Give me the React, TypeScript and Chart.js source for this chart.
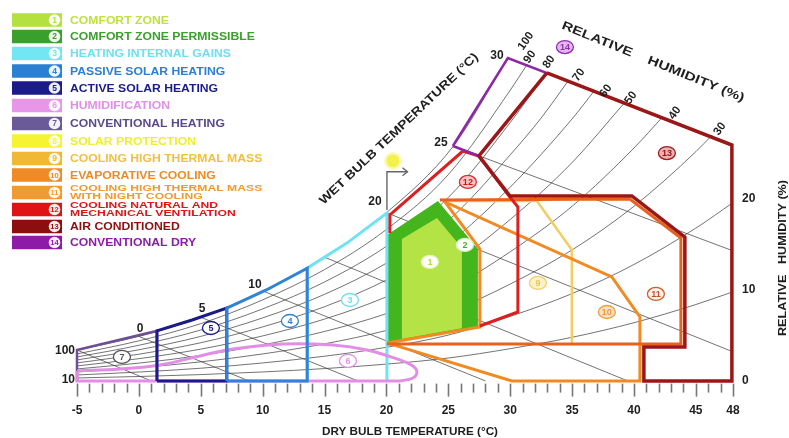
import React, { useEffect, useRef } from 'react';
import { Chart, registerables } from 'chart.js';

Chart.register(...registerables);

type P = [number, number];

const FONT = "'Liberation Sans', Arial, Helvetica, sans-serif";
const W = 789;
const H = 438;

// ---------- axes ----------
const xTickValues = [-5, 0, 5, 10, 15, 20, 25, 30, 35, 40, 45, 48];
const yTickValues = [0, 10, 20];

// ---------- psychrometric grid ----------
const saturation: P[] = [[-5, 3.4], [0, 4.9], [5, 7.0], [10, 9.9], [15, 13.6], [20, 18.5], [25.4, 25.8], [29.8, 35.5]];

const rh90: P[] = [[-5, 2.97], [0, 4.41], [5, 6.3], [10, 8.91], [15, 12.24], [20, 16.65], [25, 22.68], [30, 31.95], [31.4, 34.85]];
const rh80: P[] = [[-5, 2.64], [0, 3.92], [5, 5.6], [10, 7.92], [15, 10.88], [20, 14.8], [25, 20.16], [30, 28.4], [32.95, 33.95]];
const rh70: P[] = [[-5, 2.31], [0, 3.43], [5, 4.9], [10, 6.93], [15, 9.52], [20, 12.95], [25, 17.64], [30, 24.85], [32.5, 28.9], [34.7, 33.0]];
const rh60: P[] = [[-5, 1.98], [0, 2.94], [5, 4.2], [10, 5.94], [15, 8.16], [20, 11.1], [25, 15.12], [30, 21.3], [35, 28.8], [36.8, 31.9]];
const rh50: P[] = [[-5, 1.65], [0, 2.45], [5, 3.5], [10, 4.95], [15, 6.8], [20, 9.25], [25, 12.6], [30, 17.75], [35, 24.0], [39.25, 30.6]];
const rh40: P[] = [[-5, 1.32], [0, 1.96], [5, 2.8], [10, 3.96], [15, 5.44], [20, 7.4], [25, 10.08], [30, 14.2], [35, 19.2], [40, 25.6], [42.3, 29.0]];
const rh30: P[] = [[-5, 0.99], [0, 1.47], [5, 2.1], [10, 2.97], [15, 4.08], [20, 5.55], [25, 7.56], [30, 10.65], [35, 14.4], [40, 19.2], [45, 25.2], [46.3, 27.0]];
const rh20: P[] = [[-5, 0.66], [0, 0.98], [5, 1.4], [10, 1.98], [15, 2.72], [20, 3.7], [25, 5.04], [30, 7.1], [35, 9.6], [40, 12.8], [45, 16.8], [48, 19.6]];
const rh10: P[] = [[-5, 0.33], [0, 0.49], [5, 0.7], [10, 0.99], [15, 1.36], [20, 1.85], [25, 2.52], [30, 3.55], [35, 4.8], [40, 6.4], [45, 8.4], [48, 9.8]];

const wbMinus5: P[] = [[-5, 3.4], [1.0, 0]];
const wb0: P[] = [[0, 4.9], [8.9, 0]];
const wb5: P[] = [[5, 7.0], [17.7, 0]];
const wb10: P[] = [[10, 9.9], [28, 0]];
const wb15: P[] = [[15, 13.6], [39.5, 0]];
const wb20: P[] = [[20, 18.5], [48, 3.2]];
const wb25: P[] = [[25.4, 25.8], [48, 14.3]];

// ---------- strategy zones ----------
const zone1: P[] = [[21.25, 4.6], [21.25, 15.6], [24.08, 17.9], [26.1, 14.6], [26.1, 5.8], [21.25, 4.6]];
const zone2: P[] = [[20.04, 4.18], [20.04, 16.04], [24.16, 19.78], [27.39, 14.51], [27.39, 5.93], [20.04, 4.18]];
const zone3: P[] = [[13.6, 0], [13.6, 12.4], [16.8, 15.15], [20.04, 18.46], [20.04, 0]];
const zone4: P[] = [[7.1, 0], [7.1, 8.0], [10.3, 10.0], [13.6, 12.4], [13.6, 0], [7.1, 0]];
const zone5: P[] = [[1.46, 0], [1.46, 5.5], [4.3, 6.7], [7.1, 8.0], [7.1, 0], [1.46, 0]];
const zone6Top: P[] = [[-5, 1.1], [-1.53, 1.32], [1.7, 1.76], [4.94, 2.75], [7.6, 3.52], [11.64, 4.07], [15.68, 3.96], [18.43, 3.41], [21.09, 2.31], [22.14, 1.65], [22.46, 0.99], [22.14, 0.33], [21.09, 0]];
const zone6Base: P[] = [[21.09, 0], [-5, 0], [-5, 1.1]];
const zone7: P[] = [[-5, 0], [-5, 3.4], [-1.8, 4.45], [1.46, 5.5], [1.46, 0]];
const zone9: P[] = [[24.56, 19.78], [32.16, 19.78], [34.98, 14.4], [34.98, 4.18]];
const zone10: P[] = [[20.04, 4.18], [30.14, 0], [40.48, 0], [40.48, 7.03], [38.21, 11.43], [24.73, 19.67], [27.55, 14.51], [27.55, 5.93], [20.04, 4.18]];
const zone11: P[] = [[24.32, 19.89], [39.67, 20.0], [43.79, 15.71], [43.79, 4.07], [20.04, 4.07]];
const zone12: P[] = [[20.28, 16.26], [20.28, 18.24], [26.18, 25.27], [27.47, 24.73], [29.98, 20.22], [30.62, 19.12], [30.62, 7.58], [27.55, 6.04]];
const zone13: P[] = [[32.96, 33.85], [47.91, 25.93], [47.91, 0], [40.8, 0], [40.8, 3.74], [44.11, 3.74], [44.11, 15.82], [39.83, 20.33], [29.98, 20.33], [27.47, 24.73], [32.96, 33.85]];
const zone14: P[] = [[25.37, 25.82], [29.81, 35.49], [32.96, 33.85], [27.47, 24.73], [25.37, 25.82]];

// ---------- legend ----------
const legendNumbers = ['1', '2', '3', '4', '5', '6', '7', '8', '9', '10', '11', '12', '13', '14'];
const legendLabels = [
  ['COMFORT ZONE'],
  ['COMFORT ZONE PERMISSIBLE'],
  ['HEATING INTERNAL GAINS'],
  ['PASSIVE SOLAR HEATING'],
  ['ACTIVE SOLAR HEATING'],
  ['HUMIDIFICATION'],
  ['CONVENTIONAL HEATING'],
  ['SOLAR PROTECTION'],
  ['COOLING HIGH THERMAL MASS'],
  ['EVAPORATIVE COOLING'],
  ['COOLING HIGH THERMAL MASS', 'WITH NIGHT COOLING'],
  ['COOLING NATURAL AND', 'MECHANICAL VENTILATION'],
  ['AIR CONDITIONED'],
  ['CONVENTIONAL DRY'],
];
const legendSwatch = ['#b4e040', '#3aa02c', '#72e6f2', '#2c80d2', '#1b1b8a', '#e896e8', '#6a5a98', '#f6f432', '#f0b834', '#f08a26', '#f29a32', '#e01414', '#8c0e0e', '#8c1ca8'];
const legendText = ['#c0e040', '#3aa02c', '#6fe0f0', '#2c80d2', '#1b1b8a', '#e090e8', '#5a4a8a', '#f0ee30', '#f0c040', '#f08a26', '#f09a32', '#e01414', '#8c1010', '#8c1ca8'];
const legendRowY = [20, 36.5, 53.5, 71, 88, 105.5, 123.5, 141, 158.5, 175, 192.5, 209.5, 226.5, 242.5];

// ---------- zone number markers (data coords) ----------
const markerNums = ['1', '2', '3', '4', '5', '6', '7', '9', '10', '11', '12', '13', '14'];
const markerX = [23.51, 26.34, 17.05, 12.2, 5.82, 16.89, -1.37, 32.24, 37.81, 41.77, 26.58, 42.66, 34.42];
const markerY = [13.08, 14.95, 8.9, 6.59, 5.82, 2.2, 2.64, 10.77, 7.58, 9.56, 21.87, 25.05, 36.7];
const markerFill = ['#ffffff', '#ffffff', '#ffffff', '#ffffff', '#ffffff', '#ffffff', '#ffffff', '#fbf3c8', '#fbe2c2', '#fff2ea', '#f7c4c4', '#efb0b0', '#e6b6ee'];
const markerStroke = ['#e4f4b8', '#d8f0c8', '#6fe0f0', '#2c80d2', '#1b1b8a', '#e090e8', '#555555', '#f0d070', '#f0a040', '#d0602c', '#d83030', '#a01c1c', '#9030b0'];
const markerText = ['#b4e040', '#44b51d', '#6fe0f0', '#2c80d2', '#1b1b8a', '#e090e8', '#555555', '#e6c458', '#e89a40', '#c8502c', '#c01c1c', '#8e1818', '#9030b0'];

// wet bulb temperature labels on the saturation curve
const wbLabelText = ['0', '5', '10', '20', '25', '30'];
const wbLabelX = [0.09, 5.1, 9.38, 19.07, 24.4, 28.93];
const wbLabelY = [5.71, 7.91, 10.55, 19.67, 26.15, 35.71];

// relative humidity labels along the top edge
const rhLabelText = ['100', '90', '80', '70', '60', '50', '40', '30'];
const rhLabelX = [31.27, 31.59, 33.13, 35.55, 37.73, 39.75, 43.3, 46.94];
const rhLabelY = [37.36, 35.6, 35.05, 33.63, 31.87, 31.1, 29.45, 27.69];

// left RH labels
const leftLabelText = ['100', '10'];
const leftLabelY = [3.3, 0.11];

function drawText(ctx: CanvasRenderingContext2D, s: string, x: number, y: number, font: string, color: string, o: any = {}) {
  ctx.save();
  ctx.translate(x, y);
  if (o.rot) ctx.rotate((o.rot * Math.PI) / 180);
  ctx.font = font;
  ctx.fillStyle = color;
  ctx.textAlign = o.align || 'center';
  ctx.textBaseline = 'middle';
  let sx = o.sx || 1;
  if (o.w) sx = o.w / ctx.measureText(s).width;
  ctx.scale(sx, o.sy || 1);
  ctx.fillText(s, 0, 0);
  ctx.restore();
}

const overlay = {
  id: 'overlay',
  afterDraw(chart: any) {
    const { ctx, chartArea } = chart;
    const xs = chart.scales.x;
    const ys = chart.scales.y;
    const px = (v: number) => xs.getPixelForValue(v);
    const py = (v: number) => ys.getPixelForValue(v);
    ctx.save();

    // x axis tick marks
    ctx.strokeStyle = '#777';
    ctx.lineWidth = 1.6;
    for (let v = -5; v <= 48; v++) {
      const major = v % 5 === 0 || v === 48;
      const X = Math.round(px(v)) + 0.5;
      ctx.beginPath();
      ctx.moveTo(X, chartArea.bottom - 1);
      ctx.lineTo(X, chartArea.bottom + (major ? 12 : 8));
      ctx.stroke();
    }

    // zone 8 (solar protection) marker with arrow
    ctx.strokeStyle = '#666';
    ctx.lineWidth = 1.4;
    ctx.beginPath();
    ctx.moveTo(px(20.04), py(18.8));
    ctx.lineTo(px(20.04), py(23.0));
    ctx.lineTo(px(21.7), py(23.0));
    ctx.stroke();
    ctx.beginPath();
    ctx.moveTo(px(21.7) - 5, py(23.0) - 4);
    ctx.lineTo(px(21.7), py(23.0));
    ctx.lineTo(px(21.7) - 5, py(23.0) + 4);
    ctx.stroke();
    ctx.beginPath();
    ctx.arc(px(20.53), py(24.18), 9, 0, Math.PI * 2);
    ctx.fillStyle = 'rgba(246,244,90,0.45)';
    ctx.fill();
    ctx.beginPath();
    ctx.arc(px(20.53), py(24.18), 6.5, 0, Math.PI * 2);
    ctx.fillStyle = '#f4f04c';
    ctx.fill();

    // circled zone numbers
    markerNums.forEach((n, i) => {
      const cx = px(markerX[i]);
      const cy = py(markerY[i]);
      ctx.beginPath();
      ctx.ellipse(cx, cy, 8.5, 6.5, 0, 0, Math.PI * 2);
      ctx.fillStyle = markerFill[i];
      ctx.fill();
      ctx.lineWidth = 1.3;
      ctx.strokeStyle = markerStroke[i];
      ctx.stroke();
      drawText(ctx, n, cx, cy + 0.5, `bold 9px ${FONT}`, markerText[i]);
    });

    // wet bulb labels
    wbLabelText.forEach((t, i) => {
      drawText(ctx, t, px(wbLabelX[i]), py(wbLabelY[i]), `bold 12px ${FONT}`, '#1e1e1e');
    });
    // RH labels top
    rhLabelText.forEach((t, i) => {
      drawText(ctx, t, px(rhLabelX[i]), py(rhLabelY[i]), `bold 11.5px ${FONT}`, '#1e1e1e', { rot: -55 });
    });
    // left RH labels
    leftLabelText.forEach((t, i) => {
      drawText(ctx, t, px(-5) - 2, py(leftLabelY[i]), `bold 12px ${FONT}`, '#1e1e1e', { align: 'right' });
    });

    // titles
    drawText(ctx, 'DRY BULB TEMPERATURE (°C)', 410, 432, `bold 11.5px ${FONT}`, '#1e1e1e', { w: 176 });
    drawText(ctx, 'RELATIVE   HUMIDITY (%)', 783, 258, `bold 11.5px ${FONT}`, '#1e1e1e', { rot: -90, w: 156 });
    drawText(ctx, 'RELATIVE    HUMIDITY (%)', 653, 62, `bold 12px ${FONT}`, '#1e1e1e', { rot: 22, w: 196 });
    drawText(ctx, 'WET BULB TEMPERATURE (°C)', 399, 129, `bold 12px ${FONT}`, '#1e1e1e', { rot: -43.5, w: 214 });

    // legend
    legendNumbers.forEach((n, i) => {
      const cy = legendRowY[i];
      ctx.fillStyle = legendSwatch[i];
      ctx.fillRect(12, cy - 6.75, 50, 13.5);
      ctx.beginPath();
      ctx.arc(54.5, cy, 5.8, 0, Math.PI * 2);
      ctx.fillStyle = 'rgba(255,255,255,0.92)';
      ctx.fill();
      drawText(ctx, n, 54.5, cy + 0.5, `bold ${n.length > 1 ? 7.5 : 8.5}px ${FONT}`, legendSwatch[i]);
      const lines = legendLabels[i];
      if (lines.length === 1) {
        drawText(ctx, lines[0], 70, cy + 0.5, `bold 11.5px ${FONT}`, legendText[i], { align: 'left', sx: 1.06 });
      } else {
        drawText(ctx, lines[0], 70, cy - 3.8, `bold 11.5px ${FONT}`, legendText[i], { align: 'left', sx: 1.06, sy: 0.72 });
        drawText(ctx, lines[1], 70, cy + 4.4, `bold 11.5px ${FONT}`, legendText[i], { align: 'left', sx: 1.06, sy: 0.72 });
      }
    });

    ctx.restore();
  },
};

export default function App() {
  const ref = useRef<HTMLCanvasElement>(null);

  useEffect(() => {
    const canvas = ref.current;
    if (!canvas) return;
    const toXY = (a: P[]) => a.map(([x, y]) => ({ x, y }));
    const gridLine = (a: P[], mono: boolean) => ({
      data: toXY(a),
      showLine: true,
      pointRadius: 0,
      borderColor: 'rgba(60,60,60,0.8)',
      borderWidth: 0.9,
      fill: false,
      order: 100,
      clip: false,
      cubicInterpolationMode: mono ? 'monotone' : 'default',
    });
    const zoneLine = (a: P[], color: string, width: number, order: number, extra: any = {}) => ({
      data: toXY(a),
      showLine: true,
      pointRadius: 0,
      borderColor: color,
      borderWidth: width,
      fill: false,
      order,
      clip: false,
      borderJoinStyle: 'miter',
      ...extra,
    });

    const datasets: any[] = [
      ...[rh10, rh20, rh30, rh40, rh50, rh60, rh70, rh80, rh90, saturation].map((a) => gridLine(a, true)),
      ...[wbMinus5, wb0, wb5, wb10, wb15, wb20, wb25].map((a) => gridLine(a, false)),
      zoneLine(zone2, 'rgba(0,0,0,0)', 0, 90, { fill: 'shape', backgroundColor: '#44b51d' }),
      zoneLine(zone1, 'rgba(0,0,0,0)', 0, 89, { fill: 'shape', backgroundColor: '#b4e345' }),
      zoneLine(zone7, '#6e4f95', 2.5, 83),
      zoneLine(zone3, '#6fe3f3', 3, 82),
      zoneLine(zone6Base, '#e28ee6', 3, 81),
      zoneLine(zone6Top, '#e28ee6', 3, 80, { tension: 0.4 }),
      zoneLine(zone5, '#1b1b87', 3, 76),
      zoneLine(zone4, '#2f84d6', 3, 75),
      zoneLine(zone9, '#f3cd63', 2.5, 70),
      zoneLine(zone10, '#f18a22', 3, 69),
      zoneLine(zone11, '#e8621e', 3, 68),
      zoneLine(zone12, '#dc1f1f', 3, 67),
      zoneLine(zone14, '#8e27a6', 2.5, 66),
      zoneLine(zone13, '#9b1717', 3.5, 65),
    ];

    const tickFont = { family: FONT, size: 12, weight: 'bold' as const };
    const chart = new Chart(canvas, {
      type: 'scatter',
      data: { datasets },
      options: {
        responsive: false,
        animation: false,
        devicePixelRatio: 1,
        layout: { padding: { left: 77, top: 17, right: 0, bottom: 0 } },
        plugins: { legend: { display: false }, tooltip: { enabled: false } },
        scales: {
          x: {
            type: 'linear',
            min: -5,
            max: 48,
            grid: { display: false, drawTicks: false },
            border: { display: false },
            afterBuildTicks: (s: any) => {
              s.ticks = xTickValues.map((v) => ({ value: v }));
            },
            afterFit: (s: any) => {
              s.height = 53.4;
              s.paddingLeft = 0;
              s.paddingRight = 0;
            },
            ticks: { autoSkip: false, maxRotation: 0, minRotation: 0, padding: 19, color: '#1e1e1e', font: tickFont },
          },
          y: {
            type: 'linear',
            position: 'right',
            min: -0.4,
            max: 40,
            grid: { display: false, drawTicks: false },
            border: { display: false },
            afterBuildTicks: (s: any) => {
              s.ticks = yTickValues.map((v) => ({ value: v }));
            },
            afterFit: (s: any) => {
              s.width = 56;
              s.paddingTop = 0;
              s.paddingBottom = 0;
            },
            ticks: { padding: 9, color: '#1e1e1e', font: tickFont },
          },
        },
      } as any,
      plugins: [overlay as any],
    });
    return () => chart.destroy();
  }, []);

  return (
    <div style={{ position: 'fixed', left: 0, top: 0, width: W, height: H, background: '#fff' }}>
      <canvas ref={ref} width={W} height={H} style={{ display: 'block' }} />
    </div>
  );
}
